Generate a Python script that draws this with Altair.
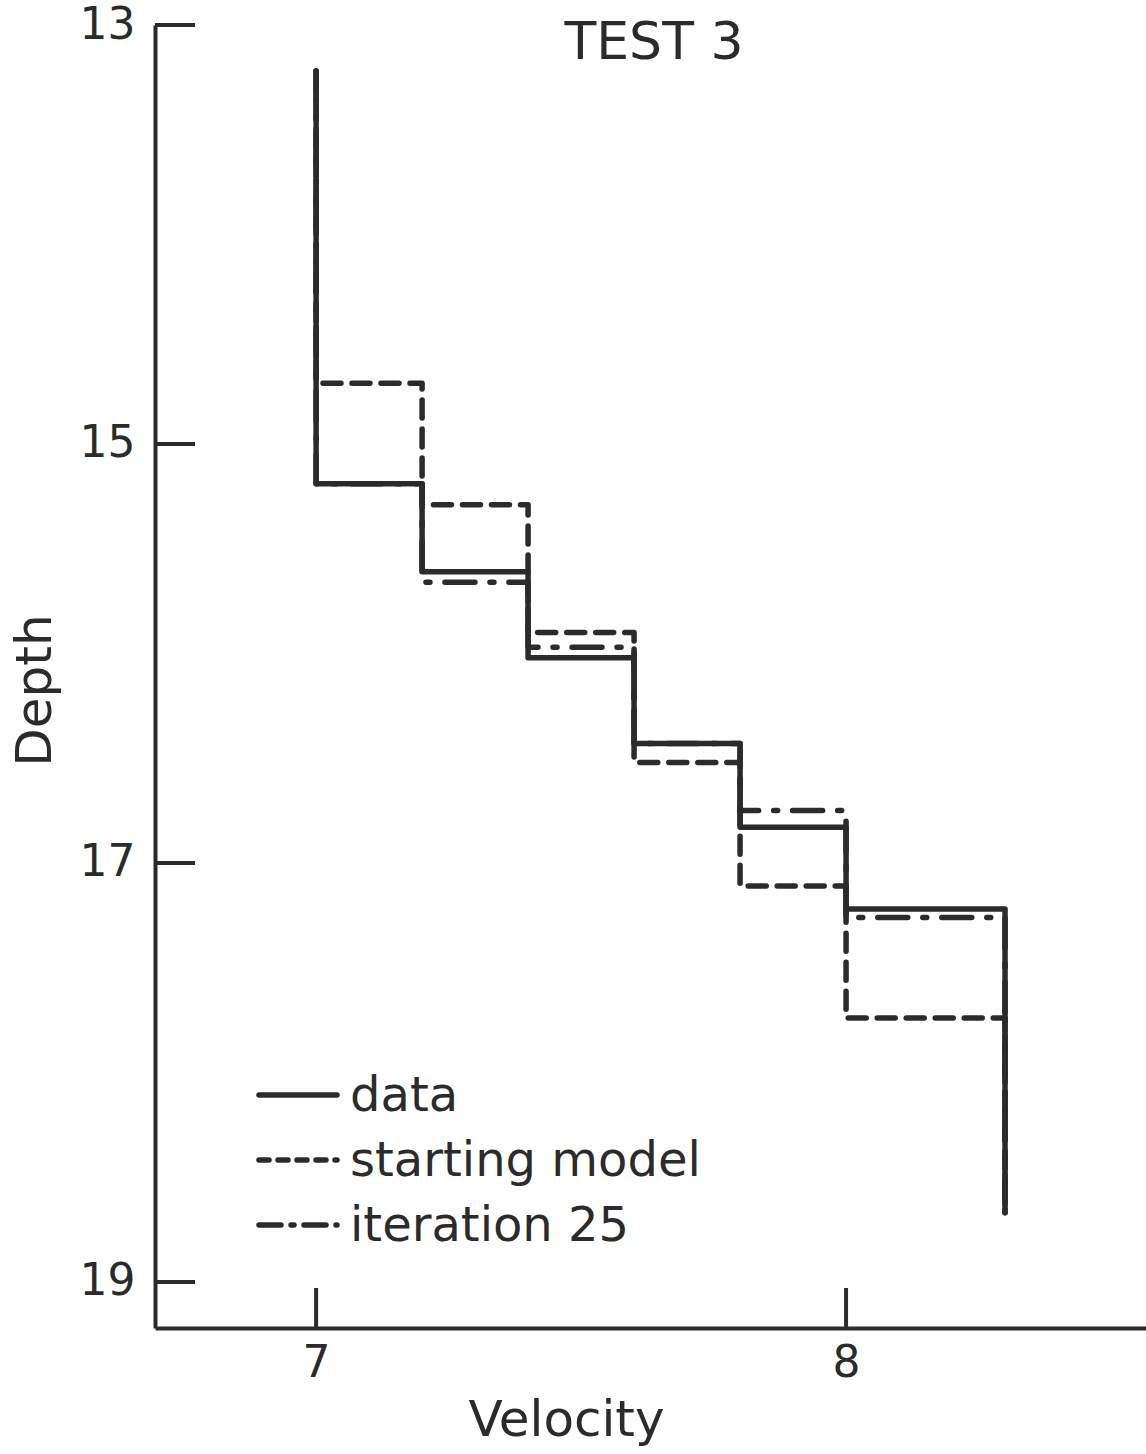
import altair as alt
import pandas as pd

# Layer velocities (km/s) and the depths of the interfaces between layers
velocities = [7.0, 7.2, 7.4, 7.6, 7.8, 8.0, 8.3]
top_depth = 13.22
bottom_depth = 18.67
data_interfaces = [15.19, 15.61, 16.02, 16.43, 16.83, 17.22]
start_interfaces = [14.71, 15.29, 15.90, 16.52, 17.11, 17.74]
iter_interfaces = [15.19, 15.66, 15.97, 16.43, 16.75, 17.26]

depth_ticks = [13, 15, 17, 19]
velocity_ticks = [7, 8]

legend_labels = ["data", "starting model", "iteration 25"]

INK = "#2b2b2b"
FONT = "DejaVu Sans"
W, H = 991, 1303
LW = 5.5

DASH = [18, 11]
DASHDOT = [30, 15, 4, 15]


def step_profile(interfaces):
    """Staircase path: each layer is a vertical segment at its velocity."""
    bounds = [top_depth] + list(interfaces) + [bottom_depth]
    rows = []
    i = 0
    for k, v in enumerate(velocities):
        rows.append({"v": v, "d": bounds[k], "i": i}); i += 1
        rows.append({"v": v, "d": bounds[k + 1], "i": i}); i += 1
    return pd.DataFrame(rows)


xscale = alt.Scale(domain=[6.696, 8.566], nice=False, zero=False)
yscale = alt.Scale(domain=[13, 19.22], nice=False, zero=False, reverse=True)

xaxis = alt.Axis(
    values=velocity_ticks, ticks=False, grid=False, domainColor=INK, domainWidth=4,
    labelFont=FONT, labelFontSize=44, labelColor=INK, labelPadding=13,
    title="Velocity", titleFont=FONT, titleFontSize=50, titleFontWeight="normal",
    titleColor=INK, titleX=411, titleY=92, titleAlign="center", titleBaseline="middle",
)
yaxis = alt.Axis(
    values=depth_ticks, ticks=False, grid=False, domainColor=INK, domainWidth=4,
    labelFont=FONT, labelFontSize=44, labelColor=INK, labelPadding=20,
    title="Depth", titleFont=FONT, titleFontSize=50, titleFontWeight="normal",
    titleColor=INK, titleX=-120, titleY=665, titleAngle=-90,
    titleAlign="center", titleBaseline="middle",
)

X = alt.X("v:Q", scale=xscale, axis=xaxis)
Y = alt.Y("d:Q", scale=yscale, axis=yaxis)


def profile_layer(interfaces, dash):
    kw = dict(color=INK, strokeWidth=LW, strokeCap="round", strokeJoin="round")
    if dash:
        kw["strokeDash"] = dash
    return alt.Chart(step_profile(interfaces)).mark_line(**kw).encode(
        x=X, y=Y, order="i:Q"
    )


starting = profile_layer(start_interfaces, DASH)
iteration = profile_layer(iter_interfaces, DASHDOT)
data_line = profile_layer(data_interfaces, None)

# Inward tick marks
ytick = alt.Chart(pd.DataFrame({"d": depth_ticks})).mark_rule(
    color=INK, strokeWidth=4
).encode(y=Y, x=alt.value(0), x2=alt.value(40))
xtick = alt.Chart(pd.DataFrame({"v": velocity_ticks})).mark_rule(
    color=INK, strokeWidth=4
).encode(x=X, y=alt.value(H - 40), y2=alt.value(H))

title = alt.Chart(pd.DataFrame({"t": ["TEST 3"]})).mark_text(
    font=FONT, fontSize=52, color=INK, align="center", baseline="middle"
).encode(text="t:N", x=alt.value(499), y=alt.value(18))

# Legend: sample line + label for each series
legend_y = [1070, 1135, 1200]
legend_dash = [None, [10, 9], [22, 10, 3, 10]]
legend_layers = []
for lab, ly, dash in zip(legend_labels, legend_y, legend_dash):
    kw = dict(color=INK, strokeWidth=LW, strokeCap="round")
    if dash:
        kw["strokeDash"] = dash
    legend_layers.append(
        alt.Chart(pd.DataFrame({"l": [lab]})).mark_rule(**kw).encode(
            x=alt.value(104), x2=alt.value(182), y=alt.value(ly)
        )
    )
    legend_layers.append(
        alt.Chart(pd.DataFrame({"l": [lab]})).mark_text(
            font=FONT, fontSize=48, color=INK, align="left", baseline="middle"
        ).encode(text="l:N", x=alt.value(195), y=alt.value(ly + 2))
    )

chart = alt.layer(
    starting, iteration, data_line, ytick, xtick, title, *legend_layers
).properties(
    width=W, height=H,
    autosize=alt.AutoSizeParams(type="none"),
    padding={"left": 155, "top": 25, "right": 0, "bottom": 126},
    background="white",
).configure_view(strokeWidth=0)

chart.save("out.html", embed_options={"renderer": "svg", "actions": False})
